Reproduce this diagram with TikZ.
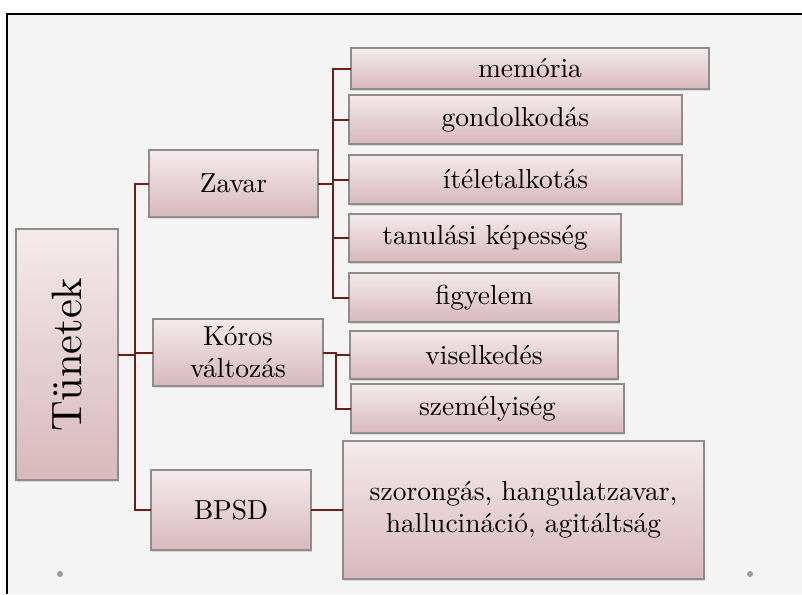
\documentclass[tikz,border=0pt]{standalone}
\usepackage{fontspec}
\setmainfont{lmroman10-regular.otf}
\usetikzlibrary{shadows}
\definecolor{bgc}{RGB}{244,244,244}
\definecolor{conn}{RGB}{108,30,24}
\definecolor{boxline}{RGB}{145,140,140}
\definecolor{boxtop}{RGB}{244,234,236}
\definecolor{boxbot}{RGB}{216,184,189}
\definecolor{dotc}{RGB}{155,155,155}
\begin{document}
\begin{tikzpicture}[x=1pt,y=-1pt,
  box/.style={draw=boxline, line width=1.2pt, top color=boxtop, bottom color=boxbot,
    inner sep=0pt, outer sep=0pt, align=center, text=black,
    font=\fontsize{27.5}{32}\selectfont,
    drop shadow={shadow xshift=1pt, shadow yshift=-1.5pt, opacity=0.25}},
  link/.style={draw=conn, line width=2pt}]
\useasboundingbox (0,0) rectangle (802,594);
\fill[white] (0,0) rectangle (802,594);
\fill[bgc] (7,14) rectangle (802,594);
\draw[line width=1.5pt, black] (802,14) -- (7,14) -- (7,594);
\fill[dotc] (60,574) circle (3);
\fill[dotc] (750,574) circle (3);

\node[box, minimum width=102, minimum height=251] (tun) at (67,354.5)
  {\rotatebox{90}{\fontsize{42.5}{50}\selectfont Tünetek}};
\node[box, minimum width=169, minimum height=67] (zav) at (233.5,183.5) {Zavar};
\node[box, minimum width=170, minimum height=67] (kor) at (238,352.5) {Kóros\\változás};
\node[box, minimum width=160, minimum height=80] (bps) at (231,510) {BPSD};
\node[box, minimum width=358, minimum height=41] (mem) at (530,68.5) {memória};
\node[box, minimum width=333, minimum height=49] (gon) at (515.5,119.5) {gondolkodás};
\node[box, minimum width=333, minimum height=49] (ite) at (515.5,179.5) {ítéletalkotás};
\node[box, minimum width=272, minimum height=48] (tan) at (485,238) {tanulási képesség};
\node[box, minimum width=270, minimum height=49] (fig) at (484,297.5) {figyelem};
\node[box, minimum width=268, minimum height=48] (vis) at (484,355) {viselkedés};
\node[box, minimum width=273, minimum height=49] (sze) at (487.5,408.5) {személyiség};
\node[box, minimum width=361, minimum height=138] (szo) at (523.5,510) {szorongás, hangulatzavar,\\hallucináció, agitáltság};

\coordinate (jx) at (135,354);
\coordinate (jz) at (333,183);
\coordinate (jk) at (336,352);

\draw[link] (tun.east) -- (tun.east -| jx);
\draw[link] (zav.west) -| (jx) |- (bps.west);
\draw[link] (kor.west) -- (kor.west -| jx);

\draw[link] (zav.east) -- (zav.east -| jz);
\draw[link] (mem.west) -| (jz) |- (fig.west);
\draw[link] (gon.west) -- (gon.west -| jz);
\draw[link] (ite.west) -- (ite.west -| jz);
\draw[link] (tan.west) -- (tan.west -| jz);

\draw[link] (kor.east) -| (jk) |- (sze.west);
\draw[link] (vis.west) -- (vis.west -| jk);

\draw[link] (bps.east) -- (szo.west);
\end{tikzpicture}
\end{document}
